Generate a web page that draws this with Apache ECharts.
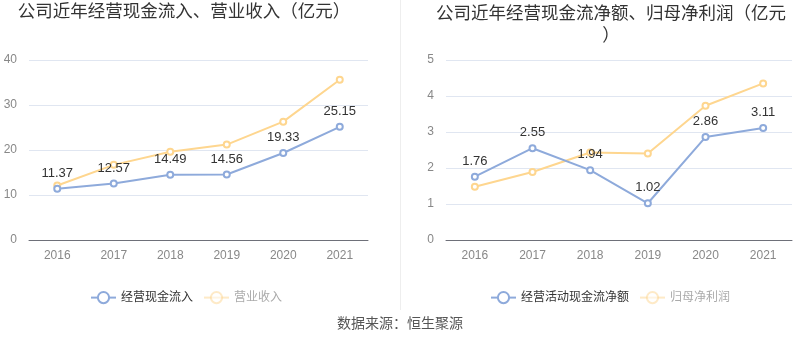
<!DOCTYPE html>
<html><head><meta charset="utf-8">
<script src="https://cdn.jsdelivr.net/npm/echarts@6/dist/echarts.min.js"></script>
<style>html,body{margin:0;padding:0;background:#fff}#c{width:800px;height:358px}</style>
</head><body><div id="c"></div>
<script>
const years = ['2016','2017','2018','2019','2020','2021'];
const cashInflow = [11.37, 12.57, 14.49, 14.56, 19.33, 25.15];
const revenue = [12.1, 16.7, 19.6, 21.2, 26.3, 35.6];
const netCashFlow = [1.76, 2.55, 1.94, 1.02, 2.86, 3.11];
const netProfit = [1.48, 1.89, 2.43, 2.40, 3.73, 4.35];
const leftTitle = '公司近年经营现金流入、营业收入（亿元）';
const rightTitle = '公司近年经营现金流净额、归母净利润（亿元\n）';
const source = '数据来源：恒生聚源';

const BLUE = '#8eaadb', ORANGE = '#fed68f';
const font = '"Liberation Sans", "Noto Sans CJK SC", sans-serif';
const chart = echarts.init(document.getElementById('c'));
function xAxis(i){return {type:'category',gridIndex:i,data:years,axisTick:{show:false},
  axisLine:{lineStyle:{color:'#6e7079'}},axisLabel:{color:'#888',fontSize:12,margin:10,fontFamily:font}};}
function yAxis(i,max,interval){return {type:'value',gridIndex:i,min:0,max:max,interval:interval,
  axisLabel:{color:'#888',fontSize:12,margin:12,fontFamily:font},splitLine:{lineStyle:{color:'#e0e6f1'}}};}
function line(name,data,color,idx,label,z){return {name:name,type:'line',data:data,xAxisIndex:idx,yAxisIndex:idx,
  symbol:'emptyCircle',symbolSize:6,z:z,lineStyle:{color:color,width:2},itemStyle:{color:color,borderWidth:2},
  label:{show:label,position:'top',color:'#333',fontSize:13,fontFamily:font}};}
chart.setOption({
  animation:false,
  textStyle:{fontFamily:font},
  title:[
    {text:leftTitle,left:184,top:3,textAlign:'center',padding:0,textStyle:{fontSize:17.5,fontWeight:'normal',color:'#333',fontFamily:font}},
    {text:rightTitle,left:611,top:3,textAlign:'center',padding:0,textStyle:{fontSize:17.5,fontWeight:'normal',color:'#333',lineHeight:22,fontFamily:font}},
    {text:source,left:400,top:317,textAlign:'center',padding:0,textStyle:{fontSize:14,fontWeight:'normal',color:'#555',fontFamily:font}}
  ],
  grid:[
    {left:29,right:432,top:60,bottom:118},
    {left:446,right:8,top:60,bottom:118}
  ],
  legend:[
    {left:90,top:291,width:300,padding:0,itemWidth:25,itemHeight:14,itemGap:10,
     data:[{name:'经营现金流入',textStyle:{color:'#333'}},{name:'营业收入',textStyle:{color:'#aaa'},itemStyle:{opacity:0.5},lineStyle:{opacity:0.5}}],
     textStyle:{fontSize:12,fontFamily:font}},
    {left:490,top:291,width:300,padding:0,itemWidth:25,itemHeight:14,itemGap:10,
     data:[{name:'经营活动现金流净额',textStyle:{color:'#333'}},{name:'归母净利润',textStyle:{color:'#aaa'},itemStyle:{opacity:0.5},lineStyle:{opacity:0.5}}],
     textStyle:{fontSize:12,fontFamily:font}}
  ],
  xAxis:[xAxis(0),xAxis(1)],
  yAxis:[yAxis(0,40,10),yAxis(1,5,1)],
  series:[
    line('经营现金流入',cashInflow,BLUE,0,true,3),
    line('营业收入',revenue,ORANGE,0,false,2),
    line('经营活动现金流净额',netCashFlow,BLUE,1,true,3),
    line('归母净利润',netProfit,ORANGE,1,false,2)
  ],
  graphic:[{type:'line',shape:{x1:400.5,y1:0,x2:400.5,y2:310},style:{stroke:'#eee',lineWidth:1}}]
});
</script></body></html>
